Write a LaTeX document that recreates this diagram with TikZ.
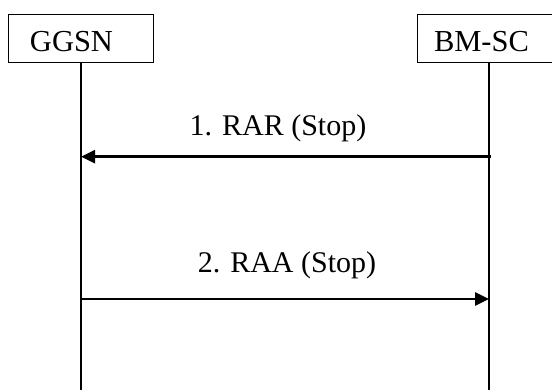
\documentclass[tikz,border=0pt]{standalone}
\usepackage{fontspec}
\setmainfont{Liberation Serif}
\usetikzlibrary{arrows.meta}
\begin{document}
\begin{tikzpicture}[x=1pt,y=-1pt,
  entity/.style={draw=black, line width=1pt, minimum height=48pt, inner ysep=0pt,
    text height=27.4pt, text depth=0pt, align=left,
    font=\fontsize{30.5}{36}\selectfont},
  life/.style={line width=1.2pt},
  msg/.style={line width=2.7pt, -{Triangle[length=14pt,width=13pt]}},
  msglabel/.style={anchor=base, inner sep=0pt, font=\fontsize{30}{36}\selectfont}]
\clip (0,0) rectangle (552,389);
\useasboundingbox (0,0) rectangle (552,389);
\fill[white] (0,0) rectangle (552,389);
% entities
\node[entity, inner xsep=21.5pt, text width=101.5pt] (gg) at (80.75,38) {GGSN};
\node[entity, inner xsep=17pt, text width=111pt] (bm) at (489.5,38) {BM-SC};
% lifeline ends
\coordinate (ggend) at (81,392);
\coordinate (bmend) at (489,392);
\draw[life] (gg.south -| ggend) -- (ggend);
\draw[life] (bm.south -| bmend) -- (bmend);
% message points
\coordinate (b1) at (490.5,156.7);
\coordinate (g1) at (81,156.7);
\coordinate (g2) at (80,299);
\coordinate (b2) at (489,299);
\draw[msg] (b1) -- (g1);
\draw[msg] (g2) -- (b2);
\node[msglabel] (l1) at (278,135) {1. RAR (Stop)};
\node[msglabel] (l2) at (287,272) {2. RAA (Stop)};
\end{tikzpicture}
\end{document}
